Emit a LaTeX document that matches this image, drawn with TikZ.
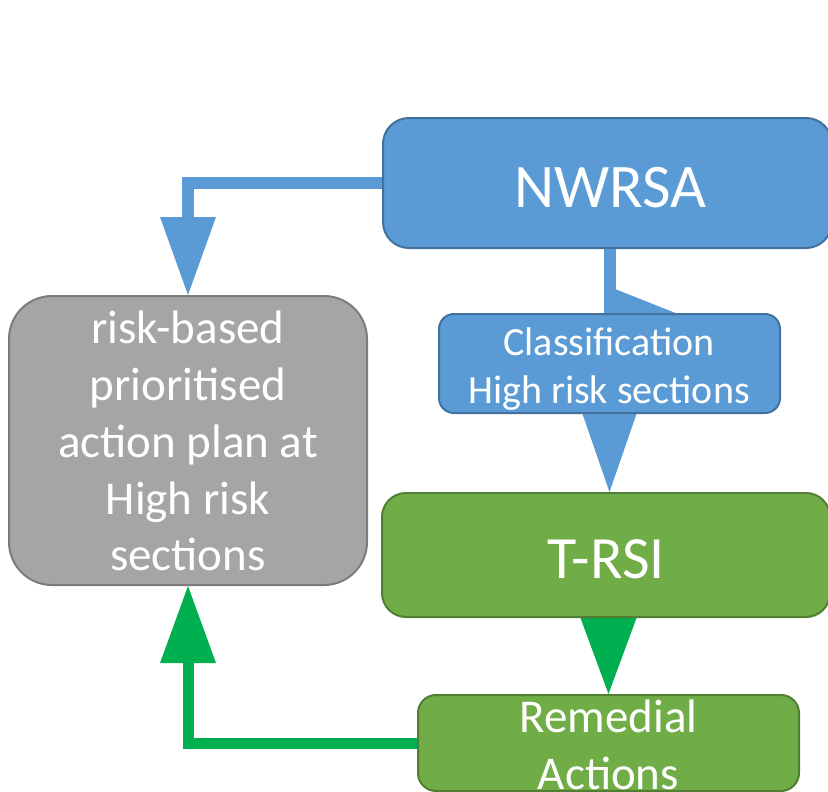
\documentclass[tikz,border=0pt]{standalone}
\usepackage{fontspec}
\setmainfont{Carlito}
\usetikzlibrary{calc}
\definecolor{bfill}{HTML}{5B9BD5}
\definecolor{bline}{HTML}{41719C}
\definecolor{gfill}{HTML}{A5A5A5}
\definecolor{gline}{HTML}{7B7B7B}
\definecolor{grfill}{HTML}{70AD47}
\definecolor{grline}{HTML}{507E32}
\definecolor{garrow}{HTML}{00B050}
\pgfdeclarelayer{background}
\pgfsetlayers{background,main}
\begin{document}
\begin{tikzpicture}[x=1pt,y=-1pt,
  box/.style={rectangle, draw, line width=2pt, inner sep=0pt},
  bluebox/.style={box, fill=bfill, draw=bline},
  greenbox/.style={box, fill=grfill, draw=grline},
  graybox/.style={box, fill=gfill, draw=gline},
  lbl/.style={text=white, inner sep=0pt, anchor=base},
  big/.style={lbl, font=\fontsize{62}{74}\selectfont},
  mid/.style={lbl, font=\fontsize{47}{57}\selectfont},
  small/.style={lbl, font=\fontsize{40}{48}\selectfont},
  bshaft/.style={draw=bfill, line width=12pt},
  gshaft/.style={draw=garrow, line width=11pt},
  ]
\useasboundingbox (0,0) rectangle (828,792);
\clip (0,0) rectangle (828,792);

% boxes
\node[bluebox, rounded corners=26pt, minimum width=449pt, minimum height=130pt] (nw) at (607.5,183) {};
\node[bluebox, rounded corners=15pt, minimum width=341pt, minimum height=99pt] (cl) at (609.5,363.5) {};
\node[greenbox, rounded corners=24pt, minimum width=448pt, minimum height=124pt] (tr) at (606,555) {};
\node[greenbox, rounded corners=18pt, minimum width=381pt, minimum height=96pt] (rm) at (608.5,743) {};
\node[graybox, rounded corners=43pt, minimum width=358pt, minimum height=289pt] (gr) at (188,440.5) {};

% connectors
\begin{pgfonlayer}{background}
  % NWRSA -> action plan
  \draw[bshaft] (nw.west) -- (nw.west -| gr.north) -- ($(gr.north)+(0,-78)$);
  \fill[bfill] ($(gr.north)+(-28,-78)$) -- ($(gr.north)+(28,-78)$) -- (gr.north) -- cycle;
  % NWRSA -> Classification
  \draw[bshaft] (nw.south -| cl.north) -- (cl.north);
  \fill[bfill] ($(cl.north)+(5.5,-24)$) -- ($(cl.north)+(68.5,1)$) -- ($(cl.north)+(5.5,1)$) -- cycle;
  % Classification -> T-RSI
  \fill[bfill] ($(cl.south)+(-27,0)$) -- ($(cl.south)+(27,0)$) -- (tr.north -| cl.south) -- cycle;
  % T-RSI -> Remedial
  \fill[garrow] ($(tr.south -| rm.north)+(-28,0)$) -- ($(tr.south -| rm.north)+(28,0)$) -- (rm.north) -- cycle;
  % Remedial -> action plan
  \draw[gshaft] (rm.west) -- (rm.west -| gr.south) -- ($(gr.south)+(0,77)$);
  \fill[garrow] ($(gr.south)+(-28,77)$) -- ($(gr.south)+(28,77)$) -- (gr.south) -- cycle;
\end{pgfonlayer}

% texts
\node[big] (tnw) at (610,207) {NWRSA};
\node[small] (tcl1) at (609,355) {Classification};
\node[small] (tcl2) at (609,403) {High risk sections};
\node[big, font=\fontsize{60}{72}\selectfont] (ttr) at (606,578) {T-RSI};
\node[mid] (tg1) at (188,343) {risk-based};
\node[mid] (tg2) at (188,400) {prioritised};
\node[mid] (tg3) at (188,457) {action plan at};
\node[mid] (tg4) at (188,514) {High risk};
\node[mid] (tg5) at (188,570) {sections};
\node[mid] (trm1) at (608.5,732) {Remedial};
\node[mid] (trm2) at (608.5,789) {Actions};
\end{tikzpicture}
\end{document}
